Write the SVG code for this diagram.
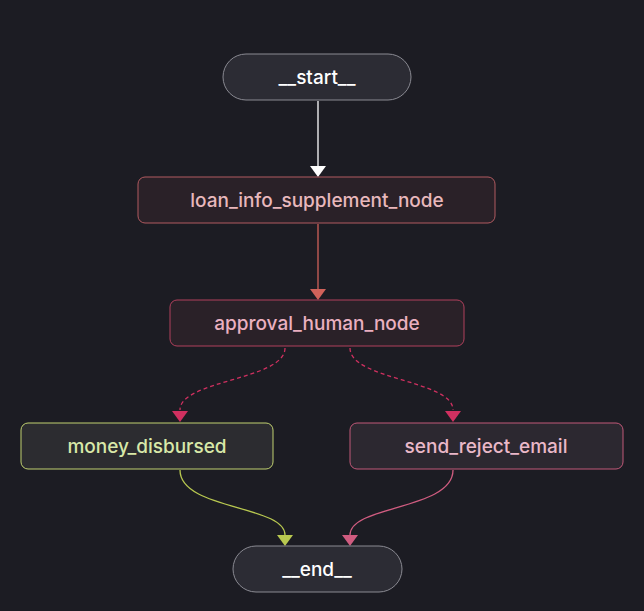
<svg xmlns="http://www.w3.org/2000/svg" width="644" height="611" viewBox="0 0 644 611">
<defs>
<style>
text{font-family:Inter,"Liberation Sans",sans-serif;font-size:19px;font-weight:500;text-anchor:middle;dominant-baseline:central}
.e{fill:none;stroke-width:1.3}
</style>
<marker id="aw" viewBox="0 0 10 10" refX="5" refY="10" markerWidth="16" markerHeight="12" markerUnits="userSpaceOnUse" orient="auto-start-reverse"><path d="M0,0 L10,0 L5,10Z" fill="#ffffff" transform="rotate(0)"/></marker>
</defs>
<rect width="644" height="611" fill="#1c1c23"/>
<g id="connectors">
<path class="e" stroke="#ffffff" d="M318,101 V166"/><path d="M310,166 L326,166 L318,177Z" fill="#ffffff"/>
<path class="e" stroke="#d0625a" d="M318,224 V289"/><path d="M310,289 L326,289 L318,300Z" fill="#d0625a"/>
<path class="e" stroke="#d03060" stroke-dasharray="4,3" d="M285,348 C285,380 180,380 180,410"/><path d="M172,411 L188,411 L180,422Z" fill="#d03060"/>
<path class="e" stroke="#d03060" stroke-dasharray="4,3" d="M350,348 C350,380 453,380 453,410"/><path d="M445,411 L461,411 L453,422Z" fill="#d03060"/>
<path class="e" stroke="#b8c850" d="M180,470 C180,510 285,505 285,535"/><path d="M277,535 L293,535 L285,546Z" fill="#b8c850"/>
<path class="e" stroke="#d05c80" d="M453,470 C453,510 350,505 350,535"/><path d="M342,535 L358,535 L350,546Z" fill="#d05c80"/>
</g>
<g id="start"><rect x="223" y="54" width="188" height="46" rx="23" fill="#2c2c34" stroke="#8a8a92"/><text x="317" y="77" fill="#ffffff">__start__</text></g>
<g id="loan_info_supplement_node"><rect x="138" y="177" width="357" height="46" rx="7" fill="#2a2128" stroke="#b05a60"/><text x="317" y="200" fill="#e8b8bc">loan_info_supplement_node</text></g>
<g id="approval_human_node"><rect x="170" y="300" width="294" height="46" rx="7" fill="#2a2128" stroke="#b0405c"/><text x="317" y="323" fill="#eab0c0">approval_human_node</text></g>
<g id="money_disbursed"><rect x="21" y="423" width="252" height="46" rx="7" fill="#2c2c30" stroke="#c0d070"/><text x="147" y="446" fill="#d8e8a8">money_disbursed</text></g>
<g id="send_reject_email"><rect x="350" y="423" width="273" height="46" rx="7" fill="#2c2830" stroke="#c05878"/><text x="486" y="446" fill="#eab8c8">send_reject_email</text></g>
<g id="end"><rect x="233" y="546" width="169" height="46" rx="23" fill="#2c2c34" stroke="#8a8a92"/><text x="317" y="569" fill="#ffffff">__end__</text></g>
</svg>
